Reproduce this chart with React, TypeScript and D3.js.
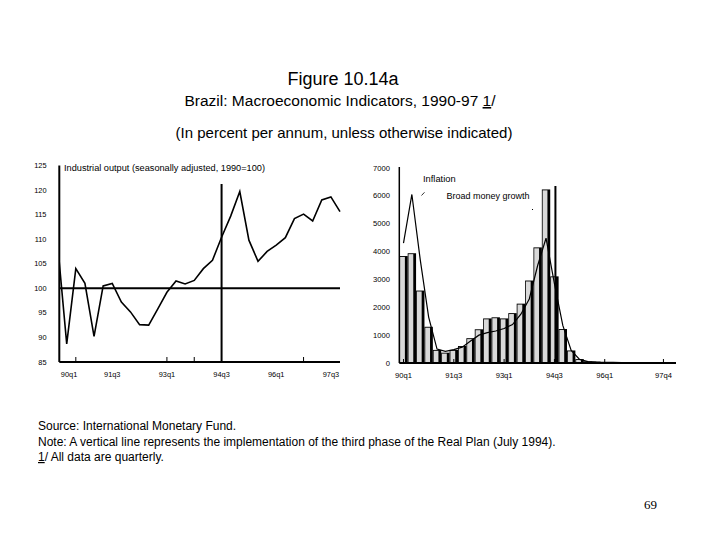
import React from 'react';
import * as d3 from 'd3';

// quarters on the left panel (industrial output)
const outputQuarters = [
  '90q1', '90q2', '90q3', '90q4', '91q1', '91q2', '91q3', '91q4',
  '92q1', '92q2', '92q3', '92q4', '93q1', '93q2', '93q3', '93q4',
  '94q1', '94q2', '94q3', '94q4', '95q1', '95q2', '95q3', '95q4',
  '96q1', '96q2', '96q3', '96q4', '97q1', '97q2', '97q3', '97q4',
];
const industrialOutput = [
  109, 88.7, 104, 101, 90.2, 100.5, 101, 97.2, 95.2, 92.6, 92.5, 95.8,
  99.2, 101.5, 100.9, 101.6, 104, 105.7, 110.4, 114.7, 119.7, 109.8, 105.5, 107.5,
  108.8, 110.3, 114.2, 115.1, 113.7, 118, 118.6, 115.6,
];
const outputTicks = [85, 90, 95, 100, 105, 110, 115, 120, 125];
const outputLabels = ['90q1', '91q3', '93q1', '94q3', '96q1', '97q3'];
const outputTickMarks = ['90q3', '93q1', '93q4', '96q4'];

// quarters on the right panel (inflation / money)
const moneyQuarters = [...outputQuarters, '98q1'];
const broadMoney = [
  3840, 3940, 2600, 1300, 470, 370, 470, 610, 890, 1210, 1600, 1640,
  1600, 1790, 2130, 2960, 4150, 6230, 3110, 1220, 450, 140, 60, 50,
  30, 20, 15, 10, 10, 10, 10, 10, 10,
];
const inflation = [
  4300, 6050, 3700, 1650, 500, 420, 480, 570, 790, 1000, 1090, 1150,
  1240, 1380, 1750, 2300, 3500, 4480, 2850, 1350, 450, 130, 50, 30,
  25, 20, 15, 12, 10, 8, 8, 6, 5,
];
const moneyTicks = [0, 1000, 2000, 3000, 4000, 5000, 6000, 7000];
const moneyLabels = ['90q1', '91q3', '93q1', '94q3', '96q1', '97q4'];
const realPlanQuarter = '94q3';

const FONT = '"Liberation Sans", Arial, sans-serif';

export default function App() {
  // left panel
  const lx0 = 59.3, lx1 = 340;
  const xL = d3.scalePoint<string>().domain(outputQuarters).range([57.6, lx1]);
  const yL = d3.scaleLinear().domain([85, 125]).range([362, 165.5]);
  const outputLine = d3.line<number>()
    .x((_, i) => xL(outputQuarters[i]) ?? 0)
    .y(d => yL(d));

  // right panel
  const rx0 = 399.3, rx1 = 676;
  const xR = d3.scaleBand<string>().domain(moneyQuarters).range([rx0, rx1]);
  const yR = d3.scaleLinear().domain([0, 7000]).range([363, 168]);
  const bw = xR.bandwidth();
  const inflationLine = d3.line<number>()
    .x((_, i) => (xR(moneyQuarters[i]) ?? 0) + bw / 2)
    .y(d => yR(d));

  const vL = xL(realPlanQuarter) ?? 0;
  const vR = (xR(realPlanQuarter) ?? 0) + bw / 2 + 1;

  return (
    <svg width={720} height={540} style={{ position: 'absolute', left: 0, top: 0, background: '#fff' }}
      fontFamily={FONT}>
      <defs>
        <clipPath id="clipL">
          <rect x={lx0} y={150} width={lx1 - lx0 + 1} height={215} />
        </clipPath>
      </defs>

      {/* titles */}
      <text x={343} y={85} fontSize={18} textAnchor="middle">Figure 10.14a</text>
      <text x={340} y={106} fontSize={15.5} textAnchor="middle">
        Brazil: Macroeconomic Indicators, 1990-97 <tspan style={{ textDecoration: 'underline' }}>1</tspan>/
      </text>
      <text x={344} y={138} fontSize={15} textAnchor="middle">(In percent per annum, unless otherwise indicated)</text>

      {/* ---------- left panel ---------- */}
      {outputTicks.map(t => (
        <text key={t} x={46.5} y={yL(t) + 2.6} fontSize={7.4} textAnchor="end">{t}</text>
      ))}
      <text x={64} y={171} fontSize={9.2}>Industrial output (seasonally adjusted, 1990=100)</text>
      <path d={outputLine(industrialOutput) ?? ''} fill="none" stroke="#000" strokeWidth={1.6}
        clipPath="url(#clipL)" strokeLinejoin="miter" />
      <line x1={lx0} x2={lx1} y1={yL(100)} y2={yL(100)} stroke="#000" strokeWidth={2} />
      <line x1={vL} x2={vL} y1={184} y2={yL(85)} stroke="#000" strokeWidth={2} />
      <line x1={lx0} x2={lx0} y1={yL(125)} y2={yL(85)} stroke="#000" strokeWidth={2} />
      <line x1={lx0} x2={lx1} y1={yL(85)} y2={yL(85)} stroke="#000" strokeWidth={2} />
      {outputTickMarks.map(q => (
        <line key={q} x1={xL(q)} x2={xL(q)} y1={yL(85)} y2={yL(85) - 5} stroke="#000" strokeWidth={1} />
      ))}
      {outputLabels.map((q, i) => (
        <text key={q} x={i === 0 ? lx0 + 1.5 : xL(q)} y={377} fontSize={7.4}
          textAnchor={i === 0 ? 'start' : 'middle'}>{q}</text>
      ))}

      {/* ---------- right panel ---------- */}
      {moneyTicks.map(t => (
        <text key={t} x={390} y={yR(t) + 2.6} fontSize={7.6} textAnchor="end">{t}</text>
      ))}
      {broadMoney.map((v, i) => {
        const x = xR(moneyQuarters[i]) ?? 0;
        const y = yR(v);
        const h = yR(0) - y;
        return (
          <g key={i}>
            <rect x={x} y={y} width={bw} height={h} fill="#000" />
            {h > 2 && (
              <rect x={x + 0.8} y={y + 0.9} width={bw - 3.6} height={h - 0.9} fill="#d9d9d9" />
            )}
          </g>
        );
      })}
      <path d={inflationLine(inflation) ?? ''} fill="none" stroke="#000" strokeWidth={1.2} />
      <line x1={vR} x2={vR} y1={186} y2={yR(0)} stroke="#000" strokeWidth={2} />
      <line x1={rx0} x2={rx0} y1={yR(7000) - 1} y2={yR(0)} stroke="#000" strokeWidth={1.5} />
      <line x1={rx0} x2={rx1} y1={yR(0)} y2={yR(0)} stroke="#000" strokeWidth={2} />
      {moneyLabels.map(q => {
        const cx = (xR(q) ?? 0) + bw / 2;
        return (
          <g key={q}>
            <line x1={cx} x2={cx} y1={yR(0)} y2={yR(0) - 4} stroke="#000" strokeWidth={1} />
            <text x={cx} y={378} fontSize={7.6} textAnchor="middle">{q}</text>
          </g>
        );
      })}
      <text x={423} y={182} fontSize={9.3}>Inflation</text>
      <line x1={421.5} y1={195.5} x2={424.5} y2={192.3} stroke="#000" strokeWidth={0.8} />
      <text x={446.5} y={199} fontSize={9}>Broad money growth</text>
      <rect x={532} y={209} width={1} height={1} fill="#000" />

      {/* footer */}
      <text x={38} y={430} fontSize={12}>Source: International Monetary Fund.</text>
      <text x={38} y={445.5} fontSize={12}>
        Note: A vertical line represents the implementation of the third phase of the Real Plan (July 1994).
      </text>
      <text x={38} y={461} fontSize={12}>
        <tspan style={{ textDecoration: 'underline' }}>1</tspan>/ All data are quarterly.
      </text>
      <text x={644} y={509} fontSize={13} fontFamily='"Liberation Serif", "Times New Roman", serif'>69</text>
    </svg>
  );
}
